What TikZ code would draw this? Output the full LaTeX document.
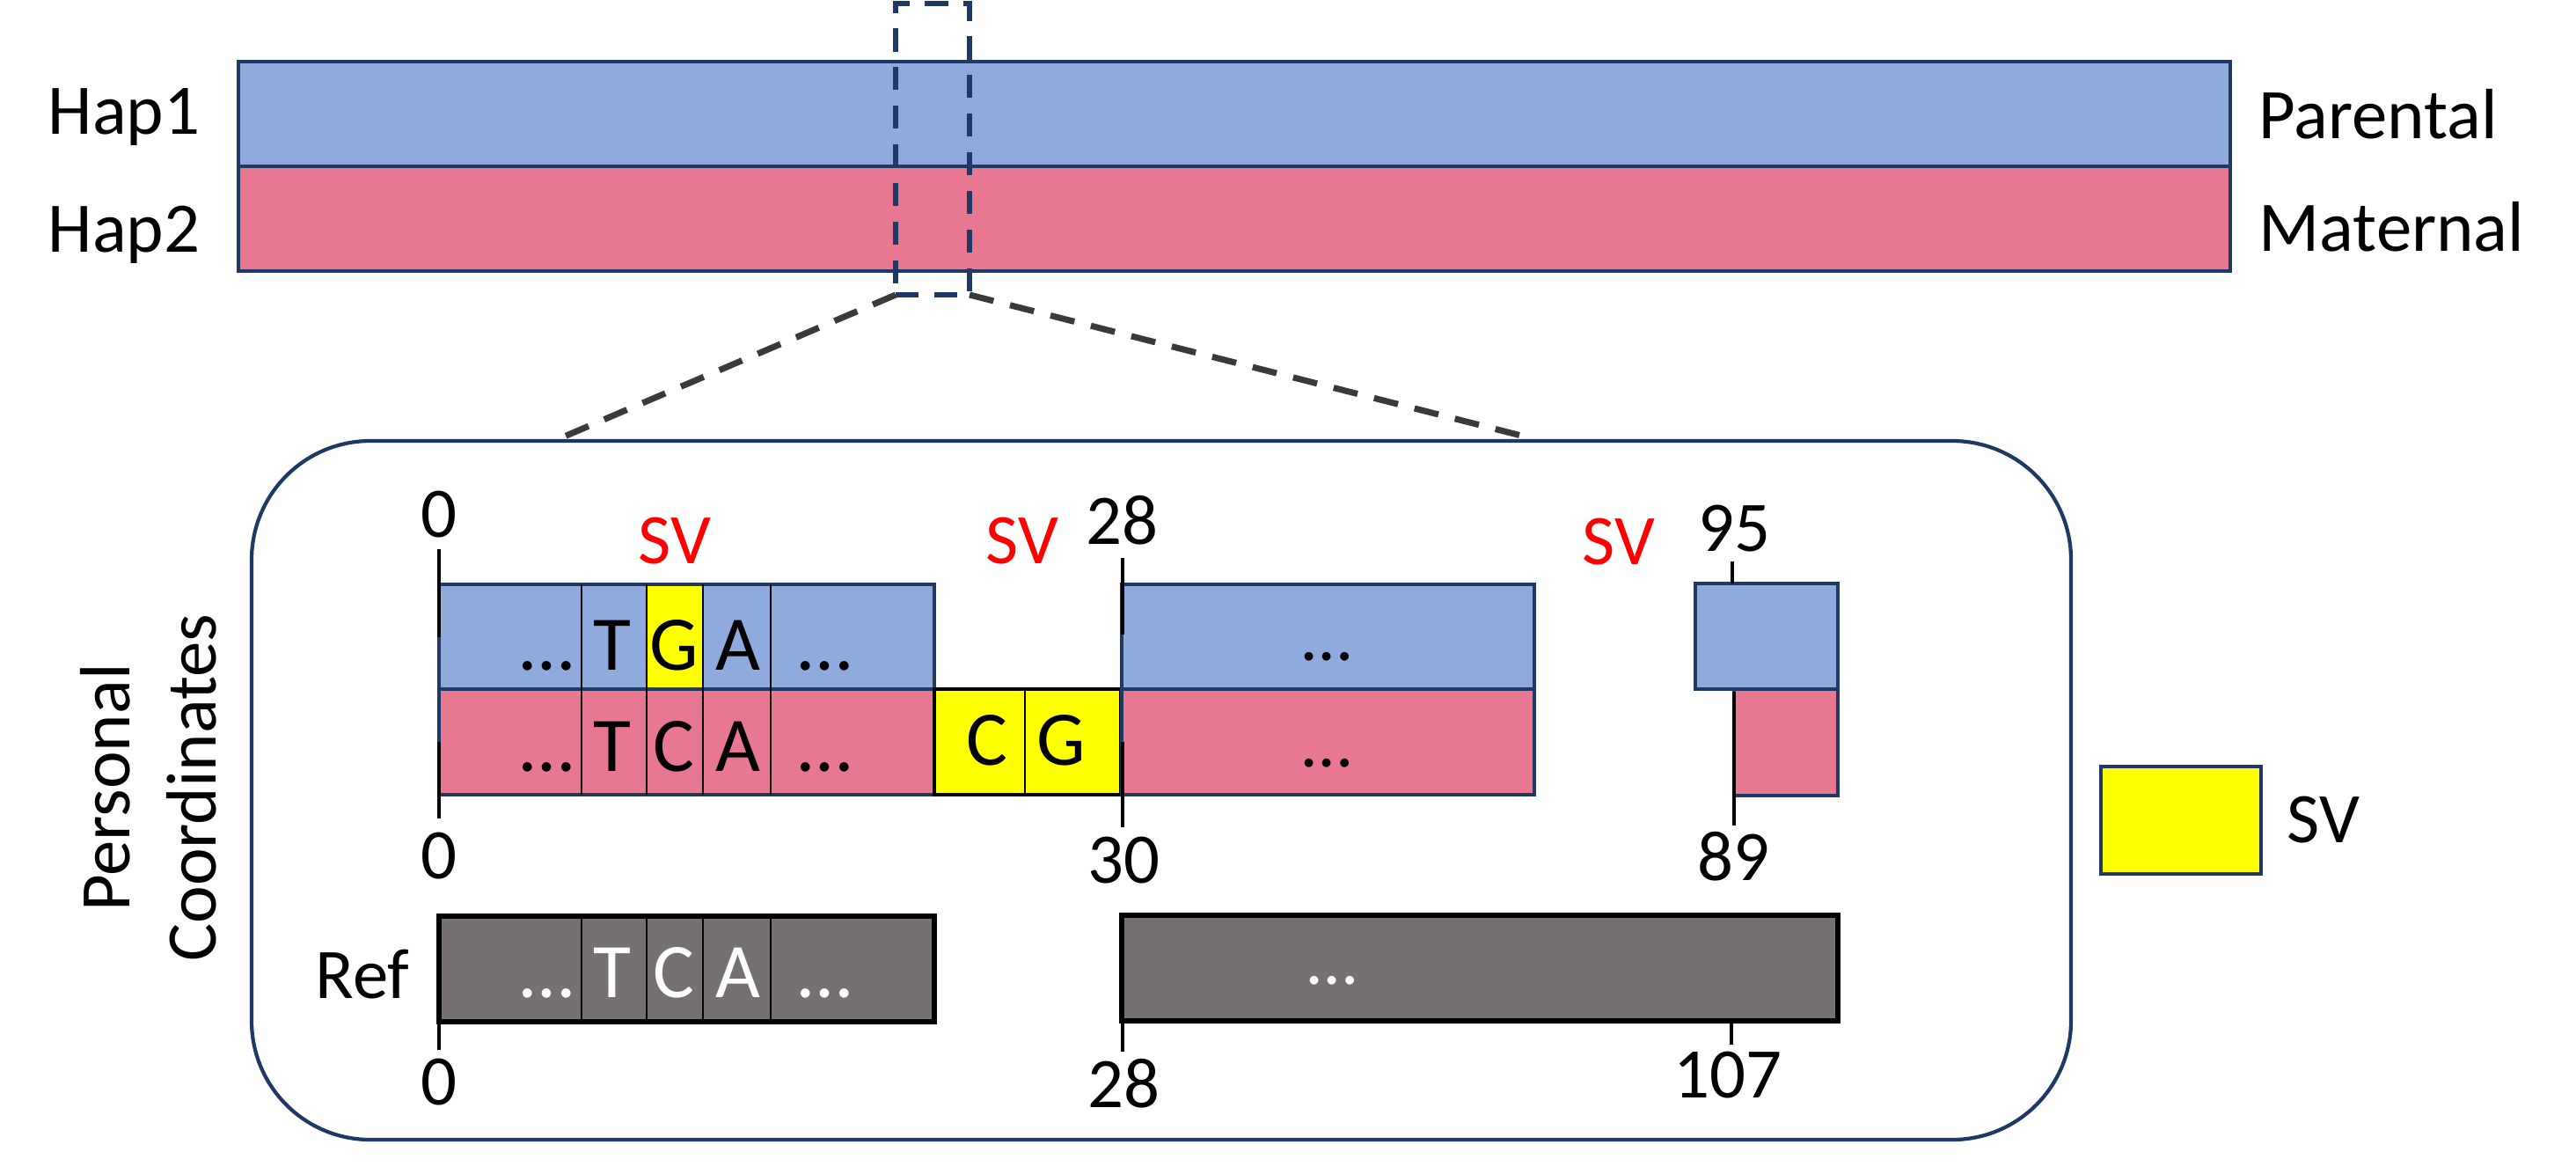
\documentclass[tikz,border=0pt]{standalone}
\usepackage{fontspec}
\setmainfont{Carlito}
\usepackage{xcolor}
\usepackage{tikz}
\usetikzlibrary{positioning}

\definecolor{hapblue}{HTML}{8FAADC}
\definecolor{happink}{HTML}{E87791}
\definecolor{refgray}{HTML}{767171}
\definecolor{navy}{HTML}{1F3864}
\definecolor{svyellow}{HTML}{FFFF00}
\definecolor{svred}{HTML}{FF0000}
\definecolor{dashgray}{HTML}{3A3A3A}

\newcommand{\lblsize}{\fontsize{23}{28}\selectfont}
\newcommand{\nucsize}{\fontsize{25}{30}\selectfont}

\begin{document}
\begin{tikzpicture}[
	box/.style={draw=navy, line width=1.1pt, anchor=north west, inner sep=0pt, outer sep=0pt, minimum height=1.19cm},
	refbox/.style={draw=black, line width=1.5pt, fill=refgray, anchor=north west, inner sep=0pt, outer sep=0pt, minimum height=1.2cm},
	lbl/.style={font=\lblsize, inner sep=0pt, anchor=base},
	nuc/.style={font=\nucsize, inner sep=0pt, anchor=base},
	tick/.style={line width=1pt},
	divider/.style={line width=0.6pt},
	zoomline/.style={dashgray, line width=2pt, dash pattern=on 8pt off 5.5pt}]

		\useasboundingbox (0,0) rectangle (29.28,-13.33);

		% whole haplotypes
		\node[box, line width=1.2pt, fill=hapblue, minimum width=22.64cm] (hap1) at (2.71,-0.70) {};
		\node[box, line width=1.2pt, fill=happink, minimum width=22.64cm] (hap2) at (2.71,-1.89) {};
		\node[lbl] (hap1lbl) at (1.41,-1.52) {Hap1};
		\node[lbl] (hap2lbl) at (1.41,-2.86) {Hap2};
		\node[lbl, anchor=base west] (patlbl) at (25.67,-1.57) {Parental};
		\node[lbl, anchor=base west] (matlbl) at (25.67,-2.85) {Maternal};

		\node[draw=navy, line width=1.6pt, dash pattern=on 7.5pt off 5pt, minimum width=0.84cm, minimum height=3.31cm, anchor=north west, inner sep=0pt, outer sep=0pt] (zoom) at (10.18,-0.04) {};

		% zoomed region
		\node[draw=navy, line width=1.2pt, rounded corners=1.35cm, minimum width=20.68cm, minimum height=7.94cm, anchor=north west, inner sep=0pt, outer sep=0pt] (detail) at (2.86,-5.01) {};
		\coordinate (zl) at (6.39,-4.97);
		\coordinate (zr) at (17.37,-4.97);
		\draw[zoomline] (zoom.south west) -- (zl);
		\draw[zoomline] (zoom.south east) -- (zr);

		\node[lbl, anchor=center, rotate=90, align=center] (pclbl) at (1.69,-8.95) {Personal\\Coordinates};

		% haplotype blocks
		\node[box, fill=hapblue, minimum width=5.63cm] (p1a) at (4.99,-6.64) {};
		\node[box, draw=none, fill=svyellow, minimum width=0.64cm, minimum height=1.15cm] (gcell) at (7.35,-6.66) {};
		\node[box, fill=hapblue, minimum width=4.69cm] (p1b) at (12.75,-6.64) {};
		\node[box, fill=hapblue, minimum width=1.62cm, minimum height=1.20cm] (p1c) at (19.27,-6.63) {};
		\node[box, fill=happink, minimum width=5.63cm, minimum height=1.20cm] (m1a) at (4.99,-7.83) {};
		\node[box, draw=black, fill=svyellow, minimum width=2.12cm, minimum height=1.20cm] (cg) at (10.62,-7.83) {};
		\node[box, fill=happink, minimum width=4.69cm, minimum height=1.20cm] (m1b) at (12.75,-7.83) {};
		\node[box, fill=happink, minimum width=1.18cm, minimum height=1.21cm] (m1c) at (19.71,-7.83) {};

		% reference blocks
		\node[refbox, minimum width=5.63cm] (r1a) at (4.99,-10.41) {};
		\node[refbox, minimum width=8.14cm] (r1b) at (12.75,-10.40) {};
		\node[lbl] (reflbl) at (4.12,-11.34) {Ref};

		\foreach \x in {6.61,7.35,7.99,8.76} {
			\draw[divider] (\x,0 |- p1a.north) -- (\x,0 |- m1a.south);
			\draw[divider] (\x,0 |- r1a.north) -- (\x,0 |- r1a.south);
		}
		\draw[divider] (11.65,0 |- cg.north) -- (11.65,0 |- cg.south);

		\foreach \x/\a/\b [count=\i] in {6.22/\ldots/\ldots, 6.96/T/T, 7.66/G/C, 8.39/A/A, 9.38/\ldots/\ldots} {
			\node[nuc] (pn\i) at (\x,-7.61) {\a};
			\node[nuc] (mn\i) at (\x,-8.76) {\b};
			\node[nuc, white] (rn\i) at (\x,-11.33) {\b};
		}
		\node[nuc] (cgc) at (11.22,-8.69) {C};
		\node[nuc] (cgg) at (12.06,-8.69) {G};
		\node[lbl] (p1bdots) at (15.08,-7.50) {\ldots};
		\node[lbl] (m1bdots) at (15.08,-8.71) {\ldots};
		\node[lbl, white] (r1bdots) at (15.14,-11.18) {\ldots};

		% coordinates
		\draw[tick] (4.99,-6.24) -- (4.99,-7.24);
		\draw[tick] (4.99,-8.43) -- (4.99,-9.30);
		\draw[tick] (12.76,-6.34) -- (12.76,-7.21);
		\draw[tick] (12.76,-8.43) -- (12.76,-9.40);
		\draw[tick] (19.69,-6.38) -- (19.69,-6.63);
		\draw[tick] (19.71,-7.86) -- (19.71,-9.38);
		\draw[tick] (4.99,-11.50) -- (4.99,-11.93);
		\draw[tick] (12.76,-11.59) -- (12.76,-11.95);
		\draw[tick] (19.68,-11.59) -- (19.68,-11.87);

		\node[lbl] (c0top) at (4.99,-6.10) {0};
		\node[lbl] (c0bot) at (4.99,-9.98) {0};
		\node[lbl] (c28top) at (12.75,-6.18) {28};
		\node[lbl] (c30) at (12.77,-10.03) {30};
		\node[lbl] (c95) at (19.71,-6.26) {95};
		\node[lbl] (c89) at (19.70,-10.00) {89};
		\node[lbl] (c0ref) at (4.99,-12.55) {0};
		\node[lbl] (c28ref) at (12.77,-12.58) {28};
		\node[lbl] (c107) at (19.64,-12.47) {107};

		\node[lbl, svred] (sv1) at (7.67,-6.40) {SV};
		\node[lbl, svred] (sv2) at (11.62,-6.40) {SV};
		\node[lbl, svred] (sv3) at (18.40,-6.41) {SV};

		% legend
		\node[box, fill=svyellow, minimum width=1.82cm, minimum height=1.22cm] (legsv) at (23.88,-8.71) {};
		\node[lbl] (legsvlbl) at (26.41,-9.57) {SV};

	\end{tikzpicture}
\end{document}
